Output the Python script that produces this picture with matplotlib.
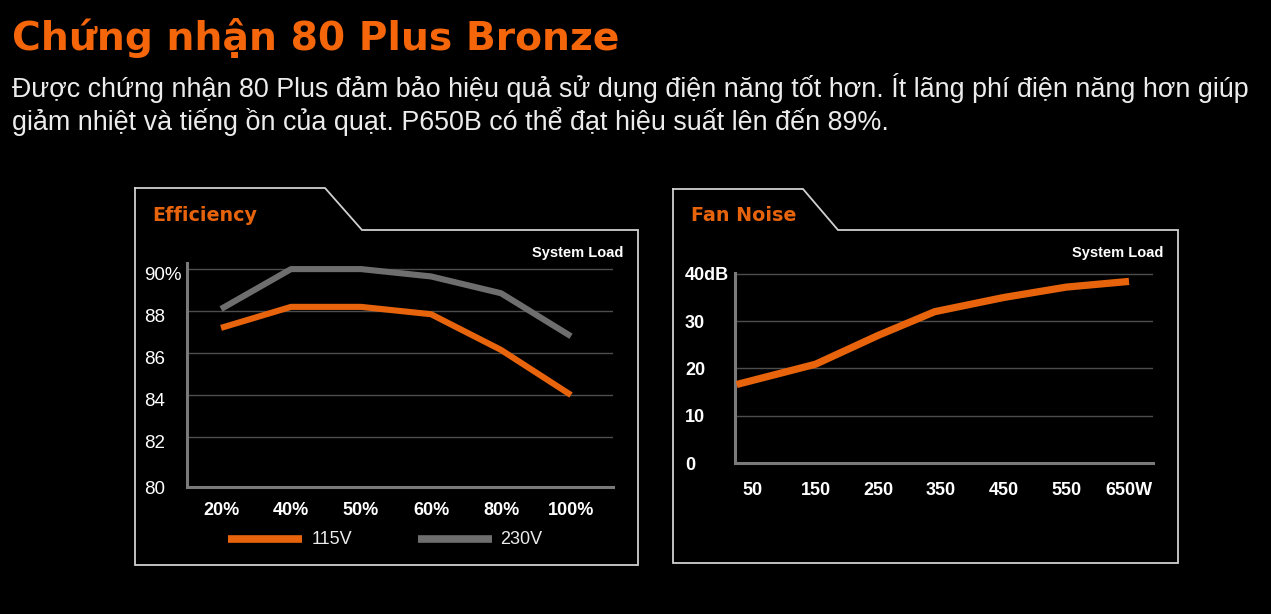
import matplotlib
matplotlib.use("Agg")
import matplotlib.pyplot as plt
from matplotlib.lines import Line2D
from matplotlib.transforms import ScaledTranslation

# ---------------- data ----------------
eff_categories = ["20%", "40%", "50%", "60%", "80%", "100%"]
eff_115v = [87.2, 88.2, 88.2, 87.85, 86.15, 84.0]
eff_230v = [88.1, 90.0, 90.0, 89.65, 88.85, 86.8]
eff_yticks = [82, 84, 86, 88, 90]
eff_yticklabels = ["82", "84", "86", "88", "90%"]

fan_load_w = [24, 150, 250, 340, 450, 550, 650]
fan_noise_db = [16.6, 20.9, 27.0, 32.0, 35.0, 37.2, 38.4]
fan_xticks = [50, 150, 250, 350, 450, 550, 650]
fan_xticklabels = ["50", "150", "250", "350", "450", "550", "650W"]
fan_yticks = [0, 10, 20, 30, 40]
fan_yticklabels = ["0", "10", "20", "30", "40dB"]

title = "Chứng nhận 80 Plus Bronze"
subtitle1 = "Được chứng nhận 80 Plus đảm bảo hiệu quả sử dụng điện năng tốt hơn. Ít lãng phí điện năng hơn giúp"
subtitle2 = "giảm nhiệt và tiếng ồn của quạt. P650B có thể đạt hiệu suất lên đến 89%."

# ---------------- style ----------------
W, H = 1271, 614
BG = "#000000"
ORANGE = "#e8640c"
TITLE_OR = "#f5650a"
GRAY = "#6e6e6e"
GRID = "#4d4d4d"
SPINE = "#7a7a7a"
BOX = "#d0d0d0"
TXT = "#ececec"

fig = plt.figure(figsize=(W / 100, H / 100), dpi=100, facecolor=BG)


def fx(px):
    return px / W


def fy(py):
    return 1 - py / H


def add_box(pts):
    xs = [fx(p[0]) for p in pts] + [fx(pts[0][0])]
    ys = [fy(p[1]) for p in pts] + [fy(pts[0][1])]
    fig.add_artist(Line2D(xs, ys, transform=fig.transFigure, color=BOX, lw=1.3,
                          solid_joinstyle="miter"))


# header text
fig.text(fx(12), fy(50), title, color=TITLE_OR, fontsize=28.3, fontweight="bold",
         family="DejaVu Sans", va="baseline", ha="left")
fig.text(fx(12), fy(97), subtitle1, color=TXT, fontsize=19.4, family="Liberation Sans",
         va="baseline", ha="left")
fig.text(fx(12), fy(130), subtitle2, color=TXT, fontsize=19.4, family="Liberation Sans",
         va="baseline", ha="left")

# panel boxes
add_box([(135, 188), (325, 188), (362, 230), (638, 230), (638, 565), (135, 565)])
add_box([(673, 189), (803, 189), (838, 230), (1178, 230), (1178, 563), (673, 563)])

fig.text(fx(152), fy(221), "Efficiency", color=ORANGE, fontsize=13.8, fontweight="bold",
         family="DejaVu Sans", va="baseline", ha="left")
fig.text(fx(691), fy(221), "Fan Noise", color=ORANGE, fontsize=13.8, fontweight="bold",
         family="DejaVu Sans", va="baseline", ha="left")
fig.text(fx(623), fy(257), "System Load", color="white", fontsize=10.5, fontweight="bold",
         family="Liberation Sans", va="baseline", ha="right")
fig.text(fx(1163), fy(257), "System Load", color="white", fontsize=10.5, fontweight="bold",
         family="Liberation Sans", va="baseline", ha="right")


def style_axes(ax):
    ax.set_facecolor("none")
    for s in ["top", "right"]:
        ax.spines[s].set_visible(False)
    for s in ["left", "bottom"]:
        ax.spines[s].set_color(SPINE)
        ax.spines[s].set_linewidth(2.2)
    ax.tick_params(length=0, colors="white")


# ---------------- efficiency ----------------
ax1 = fig.add_axes([fx(187), fy(487), fx(613) - fx(187), fy(263) - fy(487)])
style_axes(ax1)
x_idx = list(range(len(eff_categories)))
ax1.set_xlim(-0.486, 5.6)
ax1.set_ylim(79.62, 90.29)
for g in eff_yticks:
    ax1.axhline(g, color=GRID, lw=1.0, zorder=1)
ax1.plot(x_idx, eff_230v, color=GRAY, lw=4.4, solid_capstyle="butt", zorder=3)
ax1.plot(x_idx, eff_115v, color=ORANGE, lw=4.4, solid_capstyle="butt", zorder=3)
ax1.set_xticks(x_idx)
ax1.set_xticklabels(eff_categories, fontsize=13, fontweight="bold", family="Liberation Sans")
ax1.tick_params(axis="x", pad=11)
ax1.set_yticks([79.62] + eff_yticks)
ax1.set_yticklabels(["80"] + eff_yticklabels, fontsize=13.5, family="Liberation Sans")
ax1.tick_params(axis="y", pad=31)
off = ScaledTranslation(0, -4 / 100, fig.dpi_scale_trans)
for i, lbl in enumerate(ax1.get_yticklabels()):
    lbl.set_horizontalalignment("left")
    if i > 0:
        lbl.set_transform(lbl.get_transform() + off)

# legend
fig.add_artist(Line2D([fx(228), fx(302)], [fy(539), fy(539)], transform=fig.transFigure,
                      color=ORANGE, lw=5.5, solid_capstyle="butt"))
fig.text(fx(312), fy(539), "115V", color=TXT, fontsize=13, family="Liberation Sans",
         va="center", ha="left")
fig.add_artist(Line2D([fx(418), fx(492)], [fy(539), fy(539)], transform=fig.transFigure,
                      color=GRAY, lw=5.5, solid_capstyle="butt"))
fig.text(fx(500), fy(539), "230V", color=TXT, fontsize=13, family="Liberation Sans",
         va="center", ha="left")

# ---------------- fan noise ----------------
ax2 = fig.add_axes([fx(735), fy(463), fx(1153) - fx(735), fy(273) - fy(463)])
style_axes(ax2)
ax2.set_xlim(21.3, 688.3)
ax2.set_ylim(0, 40.18)
for g in fan_yticks[1:]:
    ax2.axhline(g, color=GRID, lw=1.0, zorder=1)
ax2.plot(fan_load_w, fan_noise_db, color=ORANGE, lw=5.2, solid_capstyle="butt",
         solid_joinstyle="round", zorder=3)
ax2.set_xticks(fan_xticks)
ax2.set_xticklabels(fan_xticklabels, fontsize=13, fontweight="bold", family="Liberation Sans")
ax2.tick_params(axis="x", pad=14)
ax2.set_yticks(fan_yticks)
ax2.set_yticklabels(fan_yticklabels, fontsize=13, fontweight="bold", family="Liberation Sans")
ax2.tick_params(axis="y", pad=36)
for lbl in ax2.get_yticklabels():
    lbl.set_horizontalalignment("left")

fig.savefig("out.png", dpi=100, facecolor=BG)
